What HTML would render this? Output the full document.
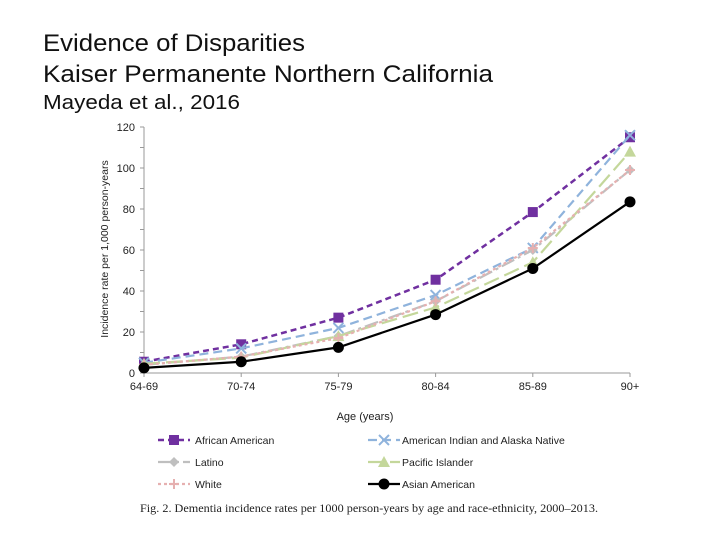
<!DOCTYPE html>
<html><head><meta charset="utf-8"><style>
body{margin:0;background:#fff}
svg{display:block;font-family:"Liberation Sans",sans-serif}
</style></head><body>
<svg id="chart" width="720" height="540" viewBox="0 0 720 540">
<text x="43" y="51" font-size="24" fill="#111" textLength="262" lengthAdjust="spacingAndGlyphs">Evidence of Disparities</text>
<text x="43" y="82" font-size="24" fill="#111" textLength="450" lengthAdjust="spacingAndGlyphs">Kaiser Permanente Northern California</text>
<text x="43" y="109" font-size="20" fill="#111" textLength="197" lengthAdjust="spacingAndGlyphs">Mayeda et al., 2016</text>
<g id="axes"></g>
<g id="series"></g>
<text x="365" y="420" font-size="11" text-anchor="middle" fill="#222">Age (years)</text>
<text transform="translate(108,249) rotate(-90)" font-size="10.5" text-anchor="middle" fill="#222">Incidence rate per 1,000 person-years</text>
<g id="legend"></g>
<text x="140" y="512" font-family="Liberation Serif,serif" font-size="11.5" fill="#222" textLength="458" lengthAdjust="spacingAndGlyphs">Fig. 2.  Dementia incidence rates per 1000 person-years by age and race-ethnicity, 2000–2013.</text>
</svg>
<script>
const categories = ["64-69","70-74","75-79","80-84","85-89","90+"];
const yTicks = [0,20,40,60,80,100,120];
const africanAmerican = [5.5,14,27,45.5,78.5,115];
const americanIndian = [5,12,22,38,61,116];
const latino = [4,8,18,35,60,99];
const pacificIslander = [4.5,7.5,18,32,54,108];
const white = [4,8,17,35,61,99];
const asianAmerican = [2.5,5.5,12.5,28.5,51,83.5];

const NS="http://www.w3.org/2000/svg";
const x0=144,x1=630,yB=373,yT=127;
const xs=i=>x0+i*(x1-x0)/(categories.length-1);
const ys=v=>yB-(v/120)*(yB-yT);
function mk(tag,attrs,parent){const e=document.createElementNS(NS,tag);for(const k in attrs)e.setAttribute(k,attrs[k]);parent.appendChild(e);return e;}
const axes=document.getElementById('axes');
let yl=mk('line',{x1:x0,y1:yB,x2:x0,y2:yT,stroke:'#999'},axes);


let xl=mk('line',{x1:x0,y1:yB,x2:x1,y2:yB,stroke:'#999'},axes);


for(let v=0;v<=120;v+=10){mk('line',{x1:x0-4,x2:x0,y1:ys(v),y2:ys(v),stroke:'#999'},axes);}
yTicks.forEach(v=>{const t=mk('text',{x:x0-9,y:ys(v)+4,'font-size':11,'text-anchor':'end',fill:'#222'},axes);t.textContent=v;

});
categories.forEach((c,i)=>{mk('line',{x1:xs(i),x2:xs(i),y1:yB,y2:yB+4,stroke:'#999'},axes);
const t=mk('text',{x:xs(i),y:yB+17,'font-size':11,'text-anchor':'middle',fill:'#222'},axes);t.textContent=c;

});

const defs=[
 {name:'african-american',label:'African American',data:africanAmerican,color:'#7030a0',dash:'6,4',w:2.5,m:'square'},
 {name:'american-indian',label:'American Indian and Alaska Native',data:americanIndian,color:'#8fb3dc',dash:'9,5',w:2.2,m:'x'},
 {name:'latino',label:'Latino',data:latino,color:'#bfbfbf',dash:'14,4,3,4',w:2.2,m:'diamond'},
 {name:'pacific-islander',label:'Pacific Islander',data:pacificIslander,color:'#c4d79b',dash:'16,6',w:2.2,m:'tri'},
 {name:'white',label:'White',data:white,color:'#e6b0b0',dash:'3,3',w:2.2,m:'plus'},
 {name:'asian-american',label:'Asian American',data:asianAmerican,color:'#000',dash:'',w:2.2,m:'circle'}
];
function marker(g,type,x,y,color){
 let e;
 if(type==='square')e=mk('rect',{x:x-5,y:y-5,width:10,height:10,fill:color},g);
 else if(type==='circle')e=mk('circle',{cx:x,cy:y,r:5.5,fill:color},g);
 else if(type==='tri')e=mk('polygon',{points:`${x},${y-6} ${x+6},${y+5} ${x-6},${y+5}`,fill:color},g);
 else if(type==='diamond')e=mk('polygon',{points:`${x},${y-5} ${x+5},${y} ${x},${y+5} ${x-5},${y}`,fill:color},g);
 else if(type==='x')e=mk('path',{d:`M${x-5},${y-5}L${x+5},${y+5}M${x+5},${y-5}L${x-5},${y+5}`,stroke:color,'stroke-width':2},g);
 else e=mk('path',{d:`M${x-5},${y}L${x+5},${y}M${x},${y-5}L${x},${y+5}`,stroke:color,'stroke-width':2},g);
 return e;
}
const sg=document.getElementById('series');
defs.forEach(s=>{
 const g=mk('g',{},sg);
 
 
 const pts=s.data.map((v,i)=>xs(i)+','+ys(v)).join(' ');
 const pl=mk('polyline',{points:pts,fill:'none',stroke:s.color,'stroke-width':s.w,'stroke-dasharray':s.dash},g);
 
 
 s.data.forEach((v,i)=>{const m=marker(g,s.m,xs(i),ys(v),s.color);
  
  });
});
const lg=document.getElementById('legend');
const lpos=[[158,440],[360,440],[158,462],[360,462],[158,484],[360,484]];
defs.forEach((s,i)=>{
 const [lx,ly]=lpos[i];
 const g=mk('g',{},lg);
 
 
 const sx=i%2===0?lx:lx+8;
 mk('line',{x1:sx,x2:sx+32,y1:ly,y2:ly,stroke:s.color,'stroke-width':s.w,'stroke-dasharray':s.dash},g);
 marker(g,s.m,sx+16,ly,s.color);
 const t=mk('text',{x:i%2===0?lx+37:lx+42,y:ly+4,'font-size':10.5,fill:'#222'},g);
 t.textContent=s.label;
});
</script>
</body></html>
